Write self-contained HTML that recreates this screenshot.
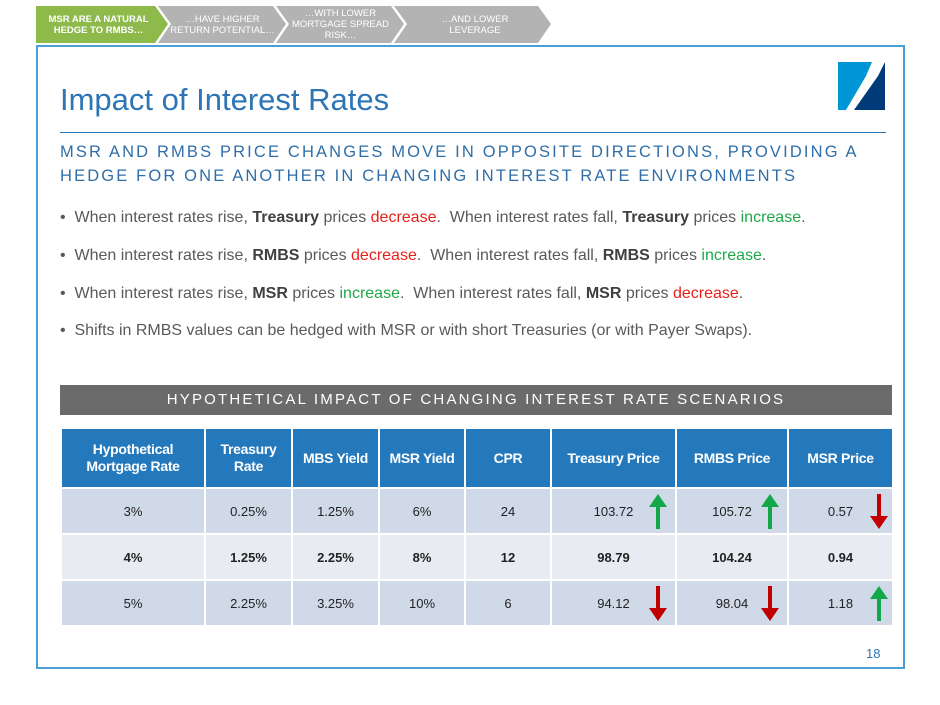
<!DOCTYPE html>
<html><head><meta charset="utf-8"><style>
*{margin:0;padding:0;box-sizing:border-box}
body{width:940px;height:705px;background:#fff;font-family:"Liberation Sans",sans-serif;position:relative;overflow:hidden}
.abs{position:absolute}
.tab{position:absolute;top:6px;height:37px;color:#fff;font-size:9.5px;text-align:center;display:flex;align-items:center;justify-content:center;line-height:11px}
#frame{left:36px;top:45px;width:869px;height:624px;border:2px solid #4a9fd6}
.t{position:absolute;font-size:16px;color:#595959}
.t b{color:#404040}
.r{color:#e8201a}.g{color:#1fa84a}
table{position:absolute;left:60px;top:427px;width:832px;border-collapse:collapse;table-layout:fixed}
td,th{border:2px solid #fff;text-align:center;font-size:13px;color:#222}
th{background:#2479bd;color:#fff;height:60px;font-size:14px;line-height:17px;letter-spacing:-0.3px}
tr.a td{background:#cfd9e8;height:46px}
tr.b td{background:#e8ecf2;height:46px;font-weight:bold}
td{position:relative}
.arr{position:absolute;right:8px;top:5px}
</style></head><body>
<svg class="abs" style="left:0;top:0" width="940" height="45">
<polygon points="36,6 155,6 168,24 155,43 36,43" fill="#8dba4a"/>
<polygon points="158,6 273,6 286,24 273,43 158,43 171,24" fill="#b3b3b3"/>
<polygon points="276,6 391,6 404,24 391,43 276,43 289,24" fill="#b3b3b3"/>
<polygon points="394,6 538,6 551,24 538,43 394,43 407,24" fill="#b3b3b3"/>
</svg>
<div class="tab" style="left:36px;width:125px;font-weight:bold">MSR ARE A NATURAL<br>HEDGE TO RMBS…</div>
<div class="tab" style="left:165px;width:115px">…HAVE HIGHER<br>RETURN POTENTIAL…</div>
<div class="tab" style="left:283px;width:115px">…WITH LOWER<br>MORTGAGE SPREAD<br>RISK…</div>
<div class="tab" style="left:405px;width:140px">…AND LOWER<br>LEVERAGE</div>
<div id="frame" class="abs"></div>
<svg class="abs" style="left:838px;top:62px" width="48" height="50">
<polygon points="0,0 34,0 28,14 8,48 0,48" fill="#0096d6"/>
<polygon points="47,0 47,48 16,48 40,14" fill="#003a78"/>
</svg>
<div class="abs" style="left:60px;top:82px;font-size:31px;color:#2e75b6">Impact of Interest Rates</div>
<div class="abs" style="left:60px;top:132px;width:826px;height:1px;background:#2e75b6"></div>
<div class="abs" style="left:60px;top:140px;font-size:16.5px;color:#2f6ea8;letter-spacing:2.15px;line-height:24px">MSR AND RMBS PRICE CHANGES MOVE IN OPPOSITE DIRECTIONS, PROVIDING A<br>HEDGE FOR ONE ANOTHER IN CHANGING INTEREST RATE ENVIRONMENTS</div>
<div class="t" style="left:60px;top:209px">•&nbsp;&nbsp;When interest rates rise, <b>Treasury</b> prices <span class="r">decrease</span>.&nbsp; When interest rates fall, <b>Treasury</b> prices <span class="g">increase</span>.</div>
<div class="t" style="left:60px;top:247px">•&nbsp;&nbsp;When interest rates rise, <b>RMBS</b> prices <span class="r">decrease</span>.&nbsp; When interest rates fall, <b>RMBS</b> prices <span class="g">increase</span>.</div>
<div class="t" style="left:60px;top:285px">•&nbsp;&nbsp;When interest rates rise, <b>MSR</b> prices <span class="g">increase</span>.&nbsp; When interest rates fall, <b>MSR</b> prices <span class="r">decrease</span>.</div>
<div class="t" style="left:60px;top:322px">•&nbsp;&nbsp;Shifts in RMBS values can be hedged with MSR or with short Treasuries (or with Payer Swaps).</div>
<div class="abs" style="left:60px;top:385px;width:832px;height:30px;background:#6b6b6b;color:#fff;font-size:15px;letter-spacing:2.2px;text-align:center;line-height:30px">HYPOTHETICAL IMPACT OF CHANGING INTEREST RATE SCENARIOS</div>
<table>
<colgroup><col style="width:144px"><col style="width:87px"><col style="width:87px"><col style="width:86px"><col style="width:86px"><col style="width:125px"><col style="width:112px"><col style="width:105px"></colgroup>
<tr><th>Hypothetical<br>Mortgage Rate</th><th>Treasury<br>Rate</th><th>MBS Yield</th><th>MSR Yield</th><th>CPR</th><th>Treasury Price</th><th>RMBS Price</th><th>MSR Price</th></tr>
<tr class="a"><td>3%</td><td>0.25%</td><td>1.25%</td><td>6%</td><td>24</td>
<td>103.72<svg class="arr" width="18" height="36"><polygon points="9,0 18,13 11,13 11,35 7,35 7,13 0,13" fill="#12a84a"/></svg></td>
<td>105.72<svg class="arr" width="18" height="36"><polygon points="9,0 18,13 11,13 11,35 7,35 7,13 0,13" fill="#12a84a"/></svg></td>
<td>0.57<svg class="arr" style="right:4px" width="18" height="36"><polygon points="9,35 18,22 11,22 11,0 7,0 7,22 0,22" fill="#c00000"/></svg></td></tr>
<tr class="b"><td>4%</td><td>1.25%</td><td>2.25%</td><td>8%</td><td>12</td><td>98.79</td><td>104.24</td><td>0.94</td></tr>
<tr class="a"><td>5%</td><td>2.25%</td><td>3.25%</td><td>10%</td><td>6</td>
<td>94.12<svg class="arr" width="18" height="36"><polygon points="9,35 18,22 11,22 11,0 7,0 7,22 0,22" fill="#c00000"/></svg></td>
<td>98.04<svg class="arr" width="18" height="36"><polygon points="9,35 18,22 11,22 11,0 7,0 7,22 0,22" fill="#c00000"/></svg></td>
<td>1.18<svg class="arr" style="right:4px" width="18" height="36"><polygon points="9,0 18,13 11,13 11,35 7,35 7,13 0,13" fill="#12a84a"/></svg></td></tr>
</table>
<div class="abs" style="left:866px;top:646px;font-size:13px;color:#2e75b6">18</div>
</body></html>
